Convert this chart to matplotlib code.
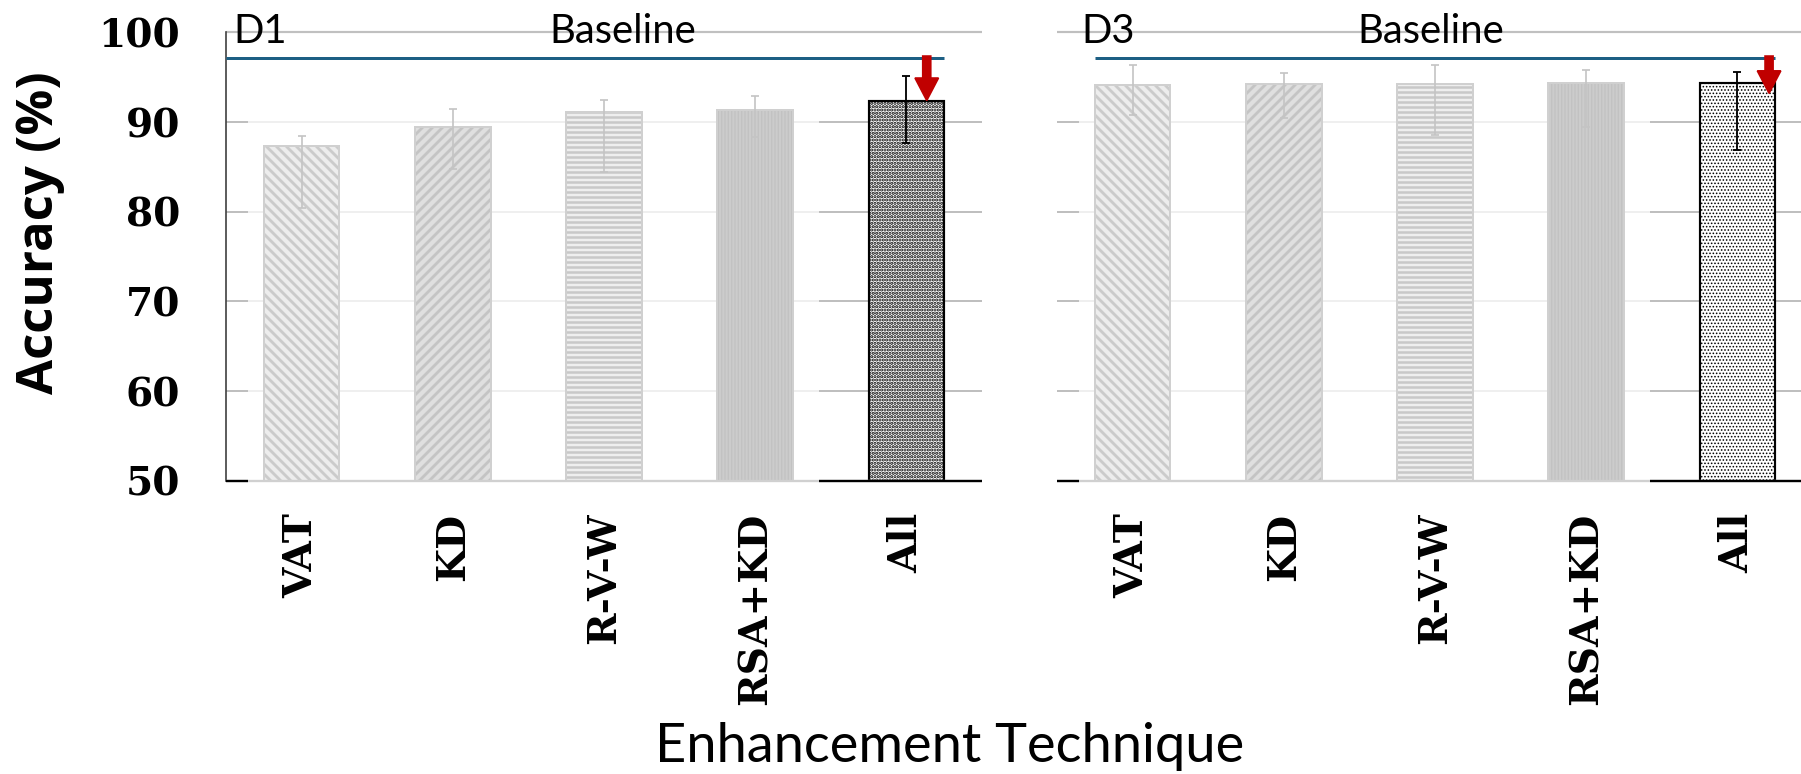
import numpy as np
import matplotlib.pyplot as plt

# data
techniques = ["VAT", "KD", "R-V-W", "RSA+KD", "All"]

d1_acc = [87.3, 89.4, 91.1, 91.3, 92.3]
d1_err_low = [80.4, 84.8, 84.4, 88.3, 87.7]
d1_err_high = [88.4, 91.5, 92.4, 92.9, 95.1]

d3_acc = [94.1, 94.2, 94.2, 94.3, 94.3]
d3_err_low = [90.8, 90.4, 88.6, 89.5, 86.9]
d3_err_high = [96.4, 95.5, 96.4, 95.8, 95.6]

baseline_d1 = 97.1
baseline_d3 = 97.1
arrow_tip_d1 = 92.4
arrow_tip_d3 = 93.2

yticks = [50, 60, 70, 80, 90, 100]

# bar looks (Excel pattern fills)
faces = ["#ededed", "#dfdfdf", "#eeeeee", "#cccccc"]
hatch_cols = ["#cbcbcb", "#c4c4c4", "#c8c8c8", "#c2c2c2"]
hatches = ["\\" * 4, "/" * 4, "-" * 4, "|" * 6]
hatch_lws = [1.7, 1.7, 1.5, 0.8]

DPI = 120
fig = plt.figure(figsize=(1801 / DPI, 774 / DPI), dpi=DPI)

light_font = ["Lato", "DejaVu Sans"]
tick_font = dict(family="DejaVu Serif", weight="bold", size=23.5)


def bar_with_hatch(ax, x, h, face, hcol, hatch, hlw, edge, elw):
    b = ax.bar(x, h, width=0.5, color=face, edgecolor=hcol, linewidth=0,
               hatch=hatch, zorder=2)
    for p in b:
        if hasattr(p, "set_hatch_linewidth"):
            p.set_hatch_linewidth(hlw)
    ax.bar(x, h, width=0.5, fill=False, edgecolor=edge, linewidth=elw, zorder=3)


def draw_panel(ax, name, acc, lo, hi, base, base_x0, tip, arrow_dx,
               name_x, base_text_x, all_hatch, all_hlw, cap_black, first):
    x = np.arange(len(techniques))
    ax.set_xlim(-0.5, 4.5)
    ax.set_ylim(50, 100)

    # gridlines: light ones, plus darker pieces from the overlaid "All" chart
    ax.hlines(yticks[1:-1], -0.5, 4.5, color="#efefef", lw=1.2, zorder=0)
    ax.hlines(yticks[1:-1], 3.42, 4.5, color="#bfbfbf", lw=1.2, zorder=0.5)
    ax.hlines(100, -0.5, 4.5, color="#c0c0c0", lw=1.3, zorder=0.5, clip_on=False)
    ax.hlines(50, -0.5, 4.5, color="#d0d0d0", lw=1.4, zorder=3.5, clip_on=False)
    ax.hlines(50, 3.42, 4.5, color="black", lw=1.4, zorder=3.6, clip_on=False)
    ax.hlines(50, -0.5, -0.355, color="black", lw=1.4, zorder=3.6, clip_on=False)

    for i in range(4):
        bar_with_hatch(ax, x[i], acc[i], faces[i], hatch_cols[i], hatches[i],
                       hatch_lws[i], "#d0d0d0", 1.2)
    bar_with_hatch(ax, x[4], acc[4], "white", "black", all_hatch, all_hlw,
                   "black", 1.3)

    lower = np.array(acc) - np.array(lo)
    upper = np.array(hi) - np.array(acc)
    eb = ax.errorbar(x[:4], acc[:4], yerr=[lower[:4], upper[:4]], fmt="none",
                     ecolor="#c4c4c4", elinewidth=1.0, capsize=2.6,
                     capthick=1.0, zorder=4)
    if cap_black:
        for c in eb[1]:
            c.set_color("black")
    ax.errorbar(x[4:], acc[4:], yerr=[lower[4:], upper[4:]], fmt="none",
                ecolor="black", elinewidth=1.1, capsize=2.6, capthick=1.1,
                zorder=4)

    # baseline and red arrow
    ax.hlines(base, base_x0, 4.25, color="#1d5f84", lw=1.8, zorder=5,
              clip_on=False)
    ax.arrow(4 + arrow_dx, 97.35, 0, tip - 97.35, width=0.053, head_width=0.155,
             head_length=2.5, length_includes_head=True, color="#c00000",
             zorder=6, clip_on=False)

    ax.text(name_x, 98.8, name, ha="left", va="baseline", fontsize=24,
            family=light_font, zorder=7)
    ax.text(base_text_x, 98.8, "Baseline", ha="center", va="baseline",
            fontsize=24, family=light_font, zorder=7)

    for s in ["top", "right", "bottom"]:
        ax.spines[s].set_visible(False)
    if first:
        ax.spines["left"].set_color("#404040")
        ax.spines["left"].set_linewidth(1.0)
    else:
        ax.spines["left"].set_visible(False)

    ax.set_yticks(yticks)
    ax.set_xticks(x)
    ax.set_xticklabels(techniques, rotation=90, **tick_font)
    ax.tick_params(axis="x", length=0, pad=19)
    ax.tick_params(axis="y", direction="in", length=13, width=1.2,
                   color="#bfbfbf", pad=27.6, labelleft=first)
    if first:
        ax.set_yticklabels([str(t) for t in yticks], **tick_font)
    ax.patch.set_alpha(0)


ax1 = fig.add_axes([0.1255, 0.3786, 0.4198, 0.5797])
ax2 = fig.add_axes([0.5869, 0.3786, 0.4198, 0.5797])

draw_panel(ax1, "D1", d1_acc, d1_err_low, d1_err_high, baseline_d1, -0.5,
           arrow_tip_d1, 0.134, -0.454, 2.126, "." * 6, 1.3, False, True)
draw_panel(ax2, "D3", d3_acc, d3_err_low, d3_err_high, baseline_d3, -0.25,
           arrow_tip_d3, 0.209, -0.34, 1.97, "." * 6, 0.6, True, False)

fig.text(40 / 1801, 1 - 232.5 / 774, "Accuracy (%)", rotation=90, ha="center",
         va="center", fontsize=30.5, weight="bold",
         family=["Open Sans", "DejaVu Sans"])
fig.text(949.5 / 1801, 1 - 762 / 774, "Enhancement Technique", ha="center",
         va="baseline", fontsize=32.5, family=light_font)

fig.savefig("out.png", dpi=DPI)
